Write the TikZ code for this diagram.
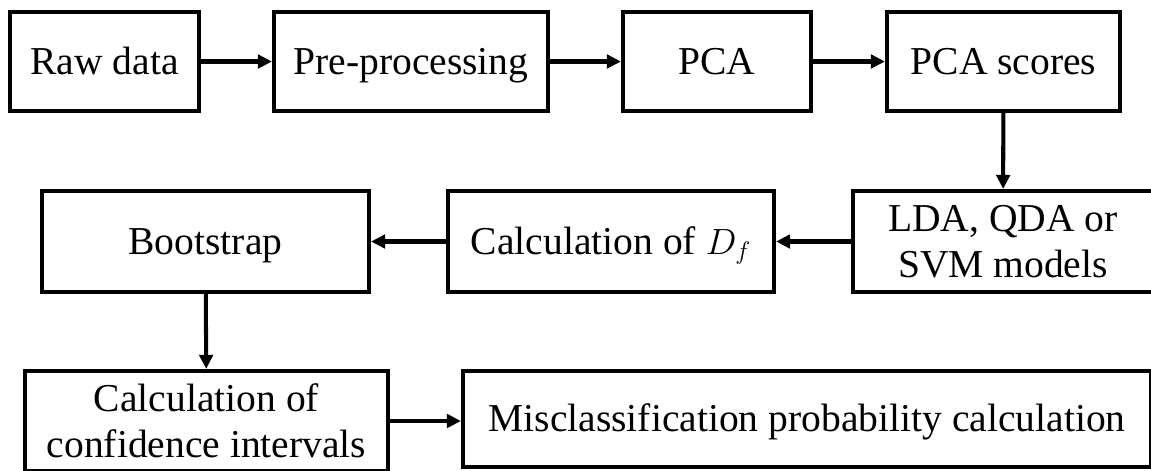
\documentclass[tikz,border=0pt]{standalone}
\usepackage{fontspec}
\setmainfont{Liberation Serif}
\usepackage{tikz}
\usetikzlibrary{arrows.meta}

\begin{document}
\begin{tikzpicture}[
        box/.style={rectangle, draw, line width=2.4pt, minimum height=1.98cm, align=center, inner sep=2pt},
        oneline/.style={box, text height=20.6pt, text depth=6pt},
        flow/.style={-{Triangle[length=0.28cm, width=0.27cm]}, line width=2.3pt},
        font=\fontsize{22.5pt}{26pt}\selectfont
    ]

        \clip (0,0) rectangle (23.02,-9.4);

        % first row
        \node[oneline, minimum width=3.78cm] (raw) at (2.09,-1.23) {Raw data};
        \node[oneline, minimum width=5.48cm] (pre) at (8.22,-1.23) {Pre-processing};
        \node[oneline, minimum width=3.76cm] (pca) at (14.34,-1.23) {PCA};
        \node[oneline, minimum width=4.66cm] (scores) at (20.07,-1.23) {PCA scores};

        % second row
        \node[oneline, minimum width=6.54cm, minimum height=2.02cm] (boot) at (4.11,-4.83) {Bootstrap};
        \node[oneline, minimum width=6.52cm, minimum height=2.02cm] (calcdf) at (12.22,-4.83) {Calculation of $D_f$};
        \node[box, minimum width=6.0cm, minimum height=2.02cm] (models) at (20.06,-4.83) {LDA, QDA or\\SVM models};

        % third row
        \node[box, minimum width=7.26cm, minimum height=2.0cm] (conf) at (4.13,-8.42) {Calculation of\\confidence intervals};
        \node[oneline, minimum width=13.76cm, minimum height=1.92cm] (misc) at (16.14,-8.38) {Misclassification probability calculation};

        % arrows
        \draw[flow] (raw) -- (pre);
        \draw[flow] (pre) -- (pca);
        \draw[flow] (pca) -- (scores);
        \draw[flow] (scores) -- (models);
        \draw[flow] (models) -- (calcdf);
        \draw[flow] (calcdf) -- (boot);
        \draw[flow] (boot) -- (conf);
        \draw[flow] (conf.east) -- (conf.east -| misc.west);

\end{tikzpicture}
\end{document}
